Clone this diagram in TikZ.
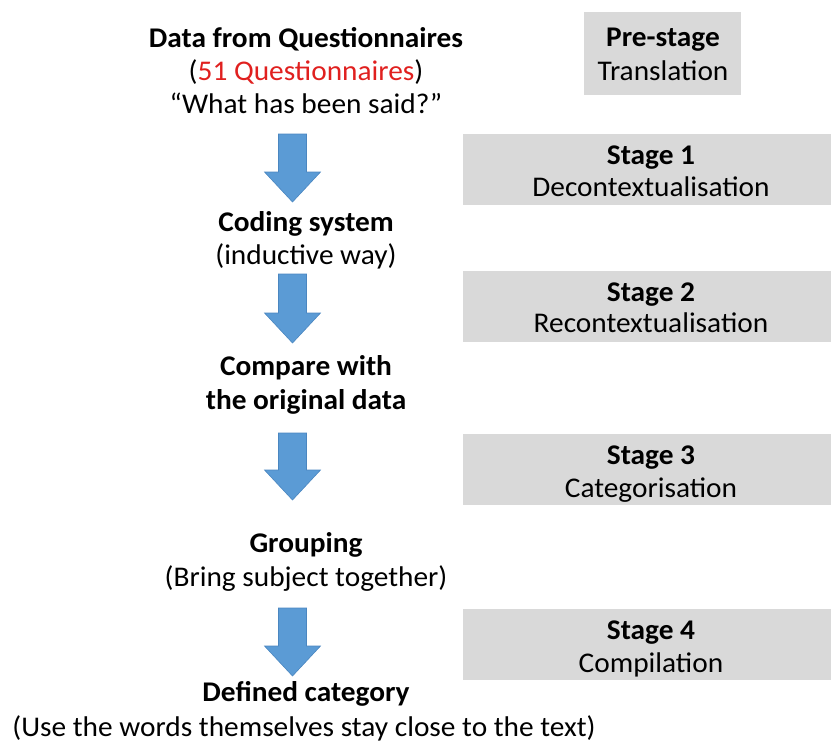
\documentclass[tikz,border=0pt]{standalone}
\usepackage{fontspec}
\setmainfont{Carlito}[FakeStretch=1.03]
\definecolor{arrowblue}{HTML}{5B9BD5}
\definecolor{arrowedge}{HTML}{4A86C0}
\definecolor{boxgray}{HTML}{D9D9D9}
\definecolor{qred}{HTML}{E0201F}

% block arrow pointing down: #1 top, #2 start of head, #3 tip
\newcommand\downblock[3]{%
  \filldraw[blockarrow] (278.5,#1) -- (306.5,#1) -- (306.5,#2) -- (320.5,#2)
    -- (292.5,#3) -- (264.5,#2) -- (278.5,#2) -- cycle;}

\begin{document}
\begin{tikzpicture}[x=1pt,y=-1pt,
  txt/.style={anchor=base,inner sep=0pt,font=\fontsize{28.5}{33}\selectfont},
  bold/.style={anchor=base,inner sep=0pt,font=\fontsize{28.5}{33}\selectfont\bfseries},
  stagebox/.style={fill=boxgray},
  blockarrow/.style={fill=arrowblue,draw=arrowedge,line width=0.6pt}]
\useasboundingbox (0,0) rectangle (831,745);

% stage boxes
\path[stagebox] (584,12) rectangle (741,95);
\path[stagebox] (463,134) rectangle (831,205);
\path[stagebox] (463,271) rectangle (831,342);
\path[stagebox] (463,434) rectangle (831,505);
\path[stagebox] (463,609) rectangle (831,680);

% flow arrows
\downblock{134}{172}{202}
\downblock{274}{313}{343}
\downblock{433}{470}{500}
\downblock{608}{646}{676}

% left column
\node[bold] (d1) at (306,47) {Data from Questionnaires};
\node[txt]  (d2) at (306,80) {(\textcolor{qred}{51 Questionnaires})};
\node[txt]  (d3) at (306,113) {“What has been said?”};
\node[bold] (c1) at (306,231) {Coding system};
\node[txt]  (c2) at (306,264) {(inductive way)};
\node[bold] (o1) at (306,375) {Compare with};
\node[bold] (o2) at (306,409) {the original data};
\node[bold] (g1) at (306,552) {Grouping};
\node[txt]  (g2) at (306,586) {(Bring subject together)};
\node[bold] (f1) at (306,701) {Defined category};
\node[txt]  (f2) at (304,736) {(Use the words themselves stay close to the text)};

% stage labels
\node[bold] (p1) at (663,46) {Pre-stage};
\node[txt]  (p2) at (663,80) {Translation};
\node[bold] (s1a) at (651,164) {Stage 1};
\node[txt]  (s1b) at (651,196) {Decontextualisation};
\node[bold] (s2a) at (651,301) {Stage 2};
\node[txt]  (s2b) at (651,332) {Recontextualisation};
\node[bold] (s3a) at (651,464) {Stage 3};
\node[txt]  (s3b) at (651,497) {Categorisation};
\node[bold] (s4a) at (651,639) {Stage 4};
\node[txt]  (s4b) at (651,672) {Compilation};
\end{tikzpicture}
\end{document}
